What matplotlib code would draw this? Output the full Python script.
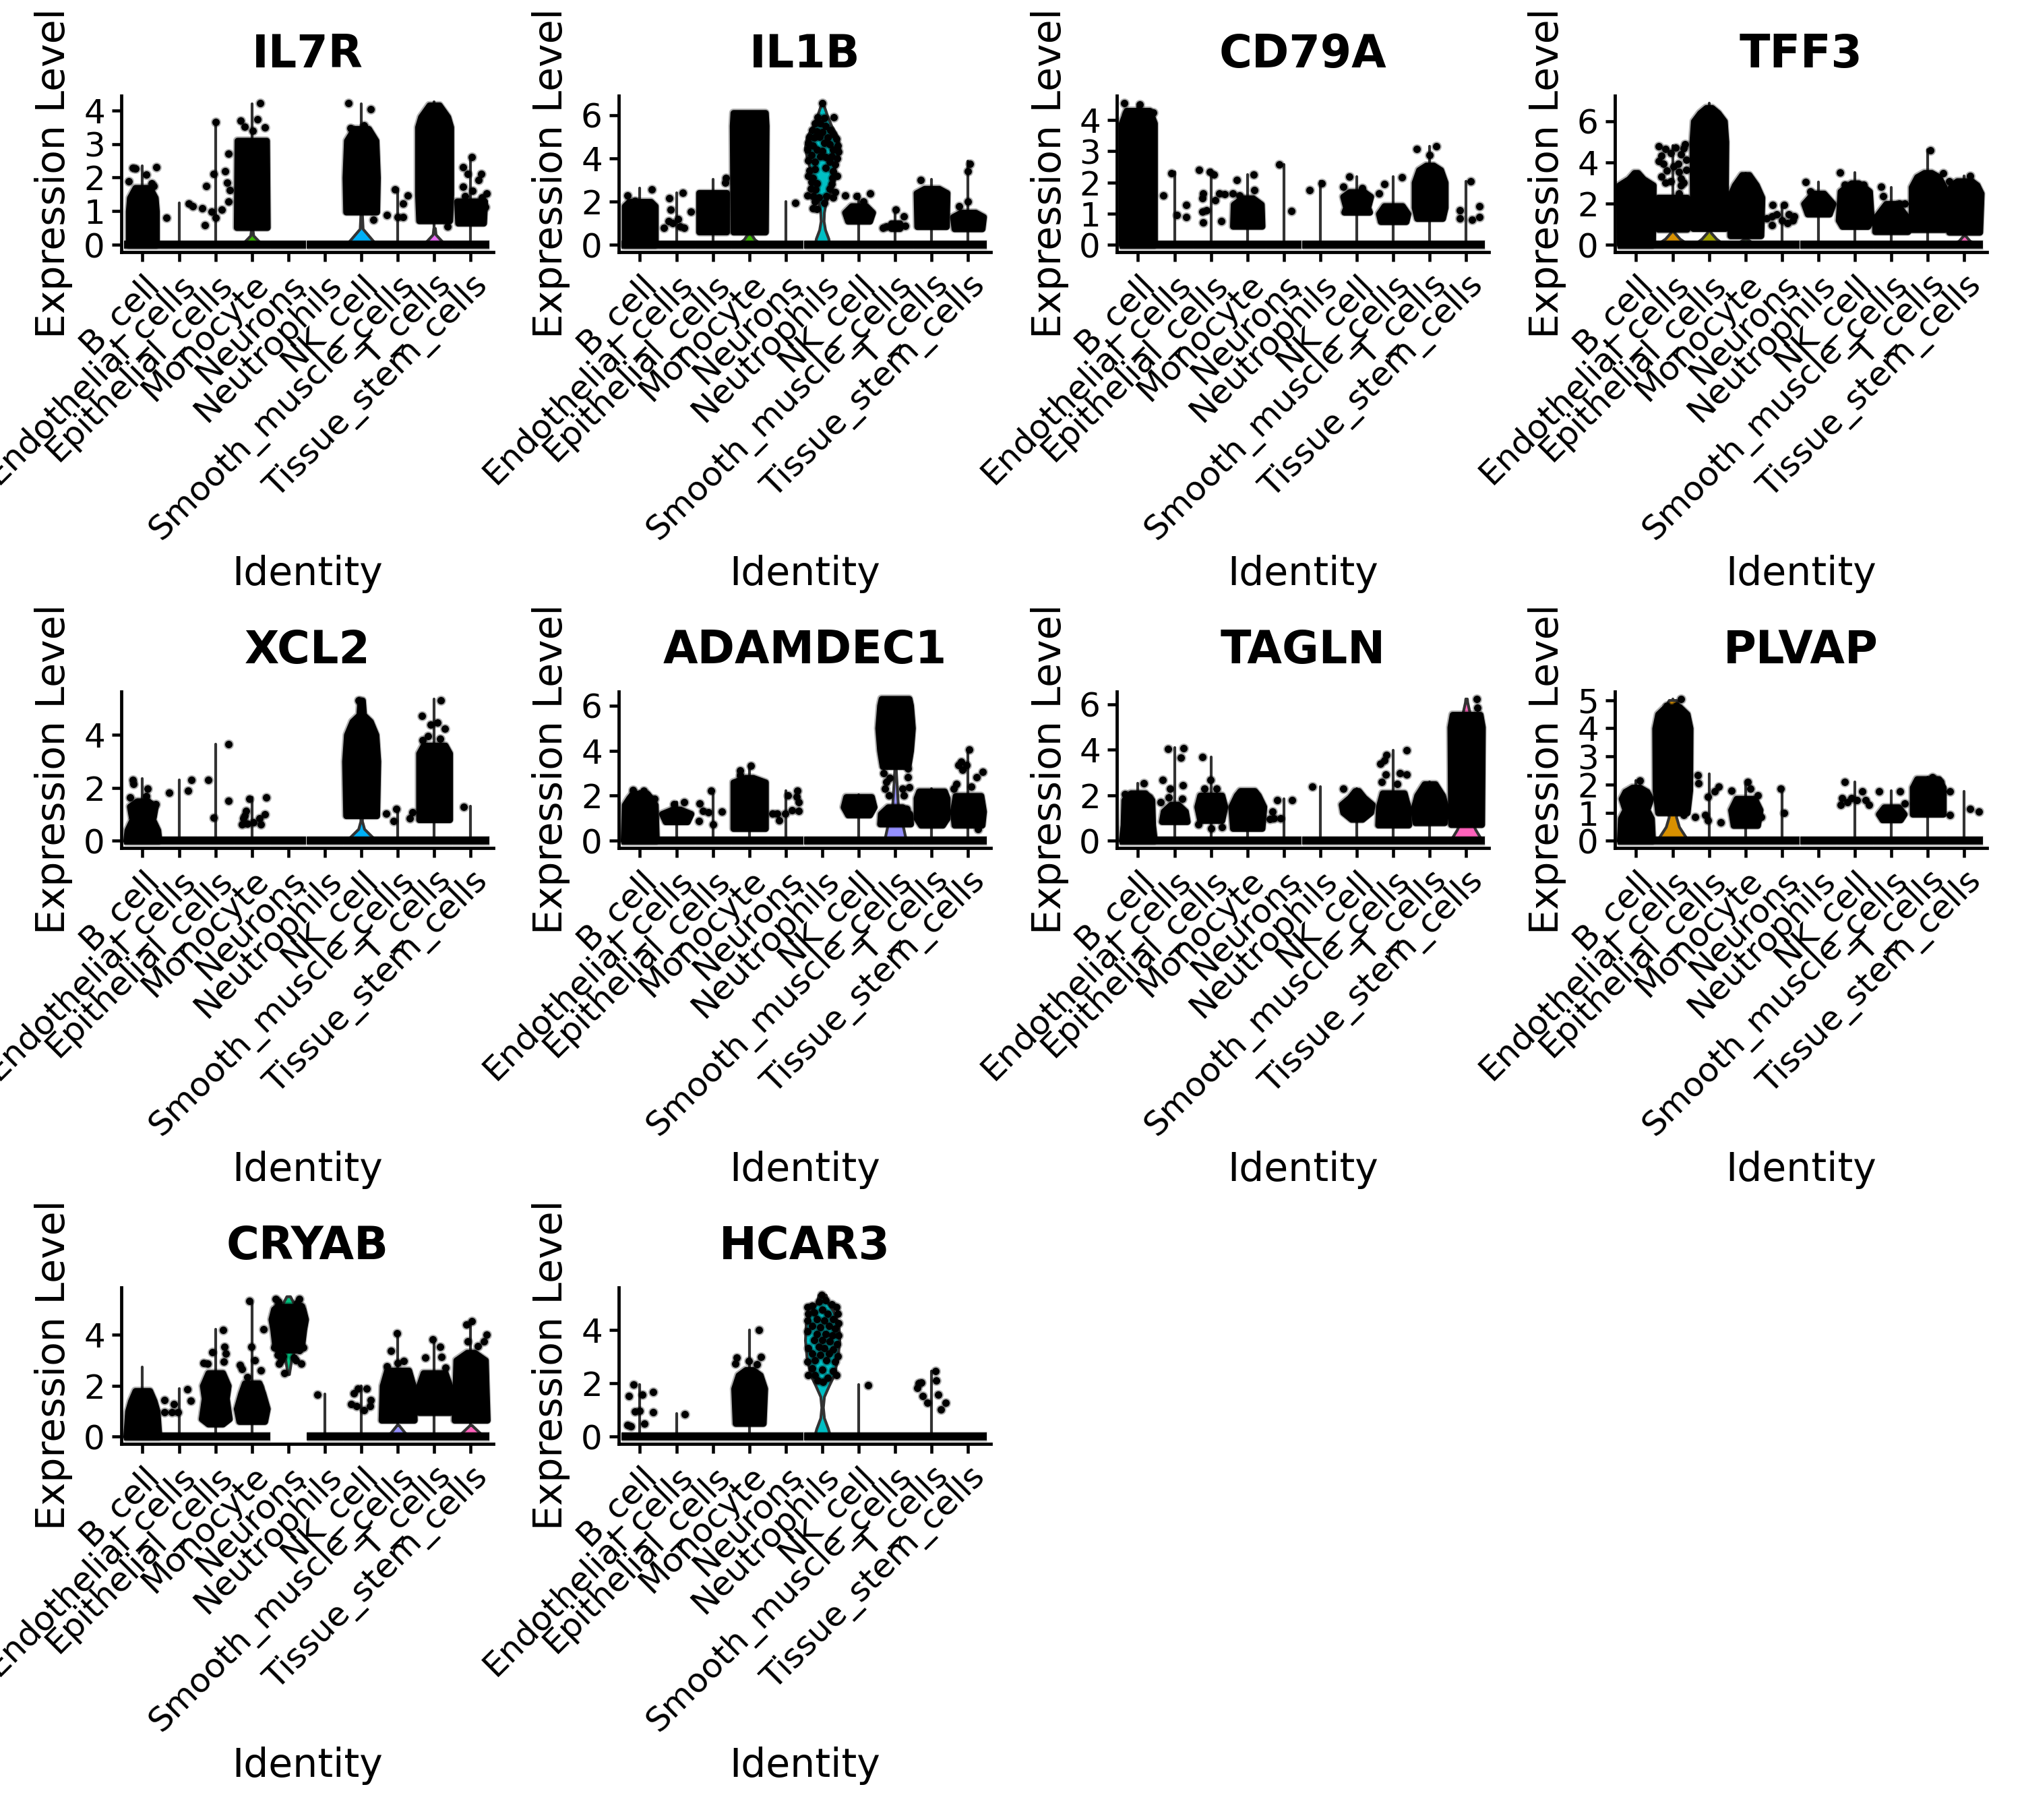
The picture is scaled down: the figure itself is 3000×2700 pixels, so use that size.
import matplotlib
matplotlib.use("Agg")
import matplotlib.pyplot as plt

clusters = ["B_cell", "Endothelial_cells", "Epithelial_cells", "Monocyte", "Neurons",
            "Neutrophils", "NK_cell", "Smooth_muscle_cells", "T_cells", "Tissue_stem_cells"]
hue = ["#F8766D", "#D89000", "#A3A500", "#39B600", "#00BF7D",
       "#00BFC4", "#00B0F6", "#9590FF", "#E76BF3", "#FF62BC"]
genes = ["IL7R", "IL1B", "CD79A", "TFF3", "XCL2", "ADAMDEC1", "TAGLN", "PLVAP", "CRYAB", "HCAR3"]
y_max = [4.22, 6.56, 4.55, 6.89, 5.36, 6.3, 6.25, 5.05, 5.57, 5.31]
y_ticks = [[0, 1, 2, 3, 4], [0, 2, 4, 6], [0, 1, 2, 3, 4], [0, 2, 4, 6], [0, 2, 4],
           [0, 2, 4, 6], [0, 2, 4, 6], [0, 1, 2, 3, 4, 5], [0, 2, 4], [0, 2, 4]]

# top of each cluster's violin line
violin_top = [
    [2.35, 1.25, 3.69, 4.2, 0, 0, 4.2, 1.67, 4.25, 2.62],
    [2.62, 2.41, 3.04, 6.1, 2.0, 6.56, 2.36, 1.68, 3.04, 3.87],
    [4.5, 2.33, 2.4, 2.26, 2.58, 2.04, 2.18, 2.18, 3.17, 2.04],
    [3.3, 4.83, 6.89, 3.47, 1.94, 3.05, 3.52, 2.79, 4.61, 3.36],
    [2.35, 2.29, 3.64, 1.63, 0, 0, 5.36, 1.25, 5.36, 1.3],
    [2.2, 1.71, 2.23, 3.36, 2.23, 0, 2.03, 3.4, 2.3, 4.06],
    [2.54, 4.09, 3.7, 2.2, 1.85, 2.39, 2.29, 3.99, 2.6, 6.25],
    [2.13, 5.04, 2.37, 2.1, 1.85, 0, 2.1, 1.79, 2.25, 1.75],
    [2.73, 1.89, 4.22, 5.32, 0, 1.67, 1.98, 4.04, 3.87, 4.53],
    [1.95, 0.86, 0, 4.0, 0, 5.31, 1.95, 0, 2.45, 0],
]

# clusters with no zero-expression cells
no_zero_band = [[], [], [], [], [], [], [], [], [4], []]

# filled violin bodies: (cluster, [(y, half width), ...])
violins = [
    [(3, [(0, .38), (.1, .2), (.28, .04), (.45, .02)]),
     (6, [(0, .42), (.15, .3), (.48, .04), (.9, .02)]),
     (8, [(0, .4), (.1, .22), (.31, .04), (.5, .02)])],
    [(3, [(0, .36), (.25, .15), (.55, .03)]),
     (5, [(0, .2), (.3, .17), (.7, .08), (1.1, .04), (1.5, .05), (2, .1), (2.5, .25), (3, .33),
          (3.5, .33), (4, .42), (4.5, .47), (5, .42), (5.5, .25), (6, .13), (6.3, .07), (6.56, .02)])],
    [],
    [(1, [(0, .45), (.3, .2), (.6, .05), (.8, .02)]),
     (2, [(0, .42), (.3, .2), (.6, .05), (.75, .02)]),
     (3, [(0, .4), (.1, .2), (.3, .03)]),
     (9, [(0, .37), (.2, .15), (.45, .03)])],
    [(6, [(0, .42), (.15, .3), (.45, .08), (.75, .02), (.95, .02)])],
    [(7, [(0, .3), (.6, .22), (1.5, .08), (3.4, .01)])],
    [(9, [(0, .44), (.5, .25), (.7, .2), (5.6, .1), (6.1, .03), (6.25, .02)])],
    [(1, [(0, .43), (.5, .18), (.85, .1), (1.1, .13), (1.6, .3), (3.4, .47), (4.5, .3), (5.0, .1)])],
    [(4, [(2.45, .02), (3, .08), (3.5, .2), (4.5, .47), (5.2, .16), (5.5, .05)]),
     (7, [(0, .37), (.15, .2), (.45, .03)]),
     (9, [(0, .4), (.15, .25), (.45, .03)])],
    [(5, [(0, .22), (.3, .16), (.7, .05), (1.1, .02), (1.5, .05), (1.9, .18), (2.3, .32),
          (3, .43), (3.6, .47), (4.2, .45), (4.7, .3), (5, .15), (5.3, .1)])],
]

# overplotted masses of jittered cells: (cluster, [(y, half width), ...])
dense_cells = [
    [(0, [(0, .38), (1.0, .38), (1.4, .35), (1.7, .2)]),
     (3, [(.52, .42), (3.1, .4)]),
     (6, [(.98, .42), (2.0, .44), (3.1, .4), (3.45, .2)]),
     (8, [(.72, .42), (1.5, .45), (3.5, .45), (3.8, .37), (4.15, .14)]),
     (9, [(.65, .35), (1.3, .38)])],
    [(0, [(0, .42), (1.8, .42), (2.0, .3)]),
     (2, [(.6, .38), (2.4, .38)]),
     (3, [(.6, .44), (5.5, .46), (6.1, .44)]),
     (6, [(1.1, .3), (1.5, .38), (1.8, .2)]),
     (7, [(.75, .12), (1.0, .12)]),
     (8, [(.85, .4), (2.4, .42), (2.6, .2)]),
     (9, [(.75, .38), (1.3, .42), (1.5, .2)])],
    [(0, [(0, .45), (3.9, .45), (4.3, .32)]),
     (3, [(.6, .4), (1.3, .38), (1.5, .15)]),
     (6, [(1.05, .35), (1.2, .3), (1.55, .38), (1.7, .2)]),
     (7, [(.75, .35), (1.0, .4), (1.25, .25)]),
     (8, [(.85, .35), (1.2, .42), (2.0, .42), (2.4, .3), (2.55, .1)])],
    [(0, [(0, .45), (2.9, .47), (3.2, .2), (3.5, .05)]),
     (1, [(.78, .4), (2.3, .4)]),
     (2, [(.8, .44), (5, .46), (6, .42), (6.4, .25), (6.65, .08)]),
     (3, [(.45, .42), (2.3, .45), (2.9, .3), (3.4, .1)]),
     (5, [(1.5, .3), (2.0, .4), (2.5, .15)]),
     (6, [(.9, .35), (1.2, .45), (2.6, .4), (3.0, .1)]),
     (7, [(.65, .45), (1.3, .45), (2.0, .15)]),
     (8, [(.75, .45), (2.8, .45), (3.3, .3), (3.5, .1)]),
     (9, [(.62, .42), (2.5, .46), (2.9, .35), (3.1, .2)])],
    [(0, [(0, .45), (.4, .42), (.75, .3)]),
     (0, [(.9, .3), (1.3, .35), (1.5, .15)]),
     (6, [(.95, .42), (3, .45), (4, .4), (4.5, .25), (4.75, .06), (5.3, .03)]),
     (8, [(.8, .42), (3.3, .42), (3.6, .3)])],
    [(0, [(0, .45), (1.6, .42), (1.9, .3), (2.1, .2)]),
     (1, [(.85, .3), (1.2, .4), (1.4, .1)]),
     (3, [(.55, .44), (2.6, .44), (2.8, .1)]),
     (6, [(1.15, .3), (1.5, .42), (1.95, .35)]),
     (7, [(3.3, .35), (4, .42), (5, .47), (6, .42), (6.3, .38)]),
     (7, [(.75, .42), (1.2, .4), (1.5, .2)]),
     (8, [(.7, .3), (1.0, .42), (1.9, .42), (2.2, .35)]),
     (9, [(.7, .38), (1.3, .42), (2.0, .35)])],
    [(0, [(0, .45), (.7, .4), (1.8, .38), (2.1, .2)]),
     (1, [(.85, .35), (1.3, .3), (1.6, .1)]),
     (2, [(.9, .3), (1.5, .38), (2.0, .3)]),
     (3, [(.55, .4), (1.5, .45), (2.0, .3), (2.2, .2)]),
     (6, [(.95, .15), (1.25, .38), (1.6, .42), (1.9, .2), (2.2, .05)]),
     (7, [(.7, .42), (1.5, .4), (2.1, .3)]),
     (8, [(.8, .4), (1.4, .45), (2.0, .35), (2.5, .15)]),
     (9, [(.72, .42), (5.0, .44), (5.55, .38)])],
    [(0, [(0, .45), (.8, .42), (1.1, .3), (1.5, .4), (1.75, .3), (1.9, .1)]),
     (1, [(1.0, .4), (1.8, .47), (4.0, .48), (4.5, .4), (4.75, .2)]),
     (3, [(.55, .33), (1.1, .4), (1.5, .25)]),
     (7, [(.75, .25), (.95, .35), (1.2, .2)]),
     (8, [(.95, .42), (1.9, .42), (2.2, .3)])],
    [(0, [(0, .45), (1.0, .4), (1.4, .32), (1.8, .2)]),
     (2, [(.5, .2), (.7, .38), (1.5, .3), (2.0, .35), (2.5, .2)]),
     (3, [(.6, .35), (1.1, .42), (1.7, .3), (2.1, .2)]),
     (4, [(3.4, .3), (3.6, .37), (4.2, .42), (4.6, .47), (5.0, .4), (5.1, .3)]),
     (7, [(.65, .45), (2, .42), (2.6, .3)]),
     (8, [(.95, .42), (2.0, .42), (2.5, .3)]),
     (9, [(.65, .45), (2, .42), (3.0, .4), (3.3, .1)])],
    [(3, [(.5, .38), (1.8, .42), (2.3, .3), (2.5, .1)])],
]

# individually visible cells: (x position, expression)
loose_cells = [
    [(-.37, 1.89), (-.19, 2.27), (-.26, 2.3), (.1, 2.09), (.38, 2.32), (.25, 1.82), (.3, 1.75), (.65, .8),
     (1.27, 1.22), (1.63, 1.08), (1.71, .58), (1.74, 1.75), (1.96, 2.12), (2.0, 3.66), (1.89, .98), (2.0, .8),
     (1.37, 1.15), (2.18, 1.05), (2.35, 1.28), (2.27, 2.2), (2.35, 2.72), (2.33, 1.85), (2.4, 1.62),
     (2.69, 3.69), (2.8, 3.52), (3.16, 3.73), (3.35, 3.49), (3.22, 4.21), (3.02, 3.39), (5.64, 4.21),
     (6.26, 4.03), (5.71, 3.47), (6.08, 3.56), (6.33, .75), (6.7, .88), (6.92, 1.65), (7.28, 1.46),
     (7.14, 1.22), (6.99, .82), (7.14, .82), (8.37, .55), (8.78, 2.32), (9.03, 2.62), (9.29, 2.12),
     (8.92, 2.12), (8.78, 1.72), (9.21, 1.92), (9.43, 1.52), (9.4, 1.12), (9.05, 1.6), (8.85, 1.45), (9.3, 1.4)],
    [(-.34, 2.3), (-.13, 2.05), (.32, 2.57), (.81, 2.15), (1.18, 2.41), (.85, 1.63), (1.39, 1.53), (.78, 1.11),
     (.65, .8), (1.22, .8), (.89, 1.0), (1.05, 1.2), (1.1, .85), (2.34, 2.88), (2.35, 3.09), (4.27, 1.94),
     (5.0, 6.55), (4.88, 5.9), (5.05, 5.85), (5.32, 5.9), (4.8, 5.6), (4.95, 5.6), (5.1, 5.5), (5.22, 5.3),
     (4.72, 5.3), (4.85, 5.25), (5.0, 5.2), (5.3, 5.1), (4.65, 5.0), (4.78, 4.95), (4.92, 5.0), (5.15, 4.95),
     (5.38, 4.9), (4.62, 4.7), (4.75, 4.6), (5.05, 4.7), (5.2, 4.65), (5.42, 4.6), (4.6, 4.4), (4.85, 4.4),
     (5.0, 4.35), (5.3, 4.4), (5.44, 4.3), (4.7, 4.15), (4.95, 4.1), (5.1, 4.05), (5.25, 4.1), (5.4, 4.0),
     (4.62, 3.9), (4.8, 3.85), (5.2, 3.85), (5.35, 3.7), (4.65, 3.45), (4.8, 3.5), (5.1, 3.55), (5.3, 3.4),
     (4.62, 3.2), (4.75, 3.1), (5.28, 3.1), (5.4, 3.2), (4.7, 2.9), (4.85, 2.85), (5.25, 2.8), (4.68, 2.6),
     (4.82, 2.55), (5.2, 2.6), (5.35, 2.45), (4.6, 2.3), (4.75, 2.25), (4.9, 2.2), (5.12, 2.25), (5.3, 2.2),
     (4.8, 2.0), (5.05, 1.95), (4.75, 1.7), (4.85, 1.65), (5.62, 2.3), (5.95, 2.25), (6.32, 2.38), (6.12, 2.0),
     (6.66, .8), (7.02, 1.63), (7.23, 1.32), (7.27, .9), (6.75, .85), (7.69, 3.0), (8.76, 1.8), (9.0, 2.0),
     (9.04, 3.76), (9.0, 3.4)],
    [(-.38, 4.54), (.04, 4.49), (-.32, 4.2), (.41, 4.24), (.7, 1.59), (.92, 2.29), (1.06, .96), (1.32, 1.28),
     (1.32, .89), (1.68, 2.4), (1.97, 2.33), (2.08, 2.26), (1.79, 1.64), (1.76, 1.5), (1.76, 1.07), (1.87, 1.1),
     (1.78, .72), (2.28, .76), (2.12, 1.43), (2.23, 1.64), (2.38, 1.63), (2.59, 1.64), (2.78, 1.59), (2.7, 2.09),
     (3.18, 2.26), (3.19, 1.75), (3.87, 2.58), (4.2, 1.08), (4.71, 1.75), (5.04, 1.97), (5.79, 2.18), (5.62, 1.86),
     (6.15, 1.82), (6.6, 1.64), (6.75, 1.95), (7.24, 2.17), (7.64, 3.08), (8.18, 3.16), (7.99, 2.87), (8.83, 1.1),
     (8.83, .86), (9.12, 2.04), (9.36, 1.25), (9.36, .89), (9.15, .81)],
    [(.62, 4.78), (.8, 4.67), (1.09, 4.72), (1.35, 4.89), (.69, 4.34), (.95, 4.45), (1.24, 4.4), (1.38, 4.12),
     (.62, 4.05), (.75, 3.95), (1.15, 3.95), (1.38, 3.65), (.69, 3.3), (.8, 3.03), (1.17, 3.55), (1.24, 3.2),
     (1.31, 3.03), (1.17, 2.49), (1.31, 2.16), (1.24, 2.9), (.85, 3.6), (1.02, 3.8), (1.3, 4.7), (.95, 3.1),
     (3.75, 1.94), (4.05, 1.94), (3.57, 1.29), (3.72, .96), (3.86, 1.5), (4.01, 1.18), (4.19, 1.5), (4.34, 1.4),
     (4.15, 1.07), (4.3, 1.18), (3.72, 1.4), (4.65, 3.05), (4.77, 2.6), (5.6, 3.52), (6.23, 2.92), (5.72, 2.92),
     (6.71, 2.81), (6.78, 2.38), (7.21, 2.0), (7.36, 2.0), (8.07, 4.58), (8.42, 3.47), (9.15, 3.34), (8.58, 3.09)],
    [(-.26, 2.3), (-.25, 2.14), (.14, 1.97), (-.34, 1.63), (.36, 1.38), (.1, 1.7), (.74, 1.82), (1.25, 1.88),
     (1.34, 2.29), (1.81, 2.29), (2.36, 3.64), (2.36, 1.5), (1.96, .88), (2.94, 1.58), (3.4, 1.63), (2.84, 1.12),
     (2.76, .86), (2.73, .61), (2.87, .65), (3.05, .7), (3.24, .61), (3.2, .86), (3.35, .99), (2.8, .95),
     (5.93, 5.31), (6.68, 1.02), (6.95, 1.2), (6.88, .74), (7.32, .86), (7.41, 1.08), (7.67, 4.72), (8.18, 5.31),
     (8.09, 4.47), (8.29, 4.23), (7.9, 4.38), (7.68, 3.79), (7.83, 3.96), (8.16, 3.85), (8.8, 1.29)],
    [(-.2, 2.26), (.11, 2.21), (.4, 1.86), (1.22, 1.71), (.93, 1.62), (1.64, 1.67), (1.73, 1.32), (1.87, 1.27),
     (1.62, .87), (2, .72), (2.24, 1.3), (1.96, 2.21), (2.75, 3.11), (2.75, 2.9), (3.04, 3.33), (3.77, 1.22),
     (3.63, 1.2), (3.81, .92), (3.99, 1.22), (4.17, 1.37), (4.35, 1.34), (4.06, 2.01), (4.32, 2.21), (4.35, 1.71),
     (4.3, 1.95), (6.76, 2.61), (6.72, 2.31), (6.83, 2.01), (7.2, 2.31), (7.35, 2.81), (7.24, 2.01), (7.38, 2.36),
     (6.69, 3.0), (7.35, 3.2), (6.85, 2.8), (7.31, 1.42), (7.38, 1.02), (8.73, 3.36), (8.95, 3.36), (8.85, 3.15),
     (9.02, 4.06), (9.39, 3.06), (9.24, 2.81), (8.67, 2.51), (8.6, 2.31), (9.09, 2.41), (9.27, .52), (8.8, 3.5)],
    [(.15, 2.54), (-.36, 2.05), (.3, 1.9), (.83, 4.05), (1.25, 4.07), (1.18, 3.66), (.68, 2.69), (1.23, 2.44),
     (.88, 2.29), (.85, 1.9), (1.21, 1.85), (.63, 1.7), (1.76, 3.68), (1.98, 2.69), (1.83, 2.29), (2.16, 2.29),
     (1.65, .71), (2.3, .61), (2, .56), (3.82, 1.8), (4.23, 1.8), (3.69, 1.3), (3.62, .96), (3.91, 1.0), (3.72, .98),
     (4.78, 2.39), (5.62, 2.29), (7.37, 3.99), (6.75, 3.53), (6.64, 3.38), (6.82, 3.77), (7.37, 2.93), (7.19, 2.98),
     (6.79, 2.93), (6.68, 2.59), (7.1, 2.5), (9.29, 6.25), (9.3, 5.85)],
    [(.11, 2.15), (1.24, 5.04), (1.1, 4.8), (.85, 4.8), (1.31, .93), (1.62, .85), (1.9, .93), (1.97, .73), (2.32, .65),
     (1.69, 2.34), (1.71, 2.05), (1.97, 1.57), (2.26, 1.93), (2.15, 1.77), (2.62, 1.79), (3.06, 2.09), (3.13, 1.85),
     (3.34, 1.61), (3.43, .85), (3.97, 1.85), (4.05, .99), (5.72, 2.09), (5.65, 1.53), (5.61, 1.29), (5.79, 1.37),
     (6.2, 1.77), (6.3, 1.45), (6.38, 1.29), (6.05, 1.45), (5.9, 1.53), (6.67, 1.77), (7.24, 1.77), (7.36, 1.33),
     (8.12, 2.25), (8.61, 1.75), (8.61, .93), (8.34, 2.09), (7.7, 2.05), (9.15, 1.13), (9.39, 1.05)],
    [(.61, 1.45), (.87, 1.27), (.61, .97), (.98, .97), (.8, .95), (1.23, 1.85), (1.33, 1.41), (2.21, 4.19), (2.25, 3.52),
     (1.92, 3.3), (2.29, 3.25), (2.22, 2.95), (1.67, 2.9), (1.78, 2.86), (2.94, 5.32), (3.31, 4.22), (2.99, 3.52),
     (2.68, 2.81), (3.08, 2.99), (3.24, 2.59), (2.87, 2.33), (2.72, 2.65), (3.2, 1.93), (3.89, 2.5), (4.36, 2.86), (3.74, 2.86),
     (3.65, 5.4), (4.3, 5.4), (3.72, 5.3), (4.25, 5.25), (3.7, 5.1), (4.35, 5.1), (3.62, 3.5), (3.7, 3.2), (4.3, 3.4), (4.4, 3.5),
     (3.8, 3.0), (3.85, 3.15), (4.15, 3.1), (4.2, 3.0), (4.8, 1.64), (5.79, 1.71), (5.72, 1.27), (5.9, 1.9), (6.15, 1.89),
     (6.26, 1.45), (6.08, 1.05), (5.86, 1.19), (6.23, 1.19), (6.97, 4.04), (6.82, 3.37), (7.17, 2.96), (7.0, 2.9), (6.7, 2.75),
     (7.96, 3.82), (7.76, 3.1), (8.16, 3.52), (8.2, 3.12), (8.3, 2.7), (8.88, 4.4), (9.03, 4.53), (8.92, 3.74), (9.44, 4.0),
     (9.36, 3.74), (9.2, 3.55)],
    [(-.17, 1.95), (-.31, 1.53), (.07, 1.57), (.36, 1.67), (-.13, .94), (-.01, .98), (.36, .91), (-.34, .44), (-.25, .39),
     (.13, .48), (1.24, .84), (3.26, 4.0), (3.32, 2.98), (2.66, 2.95), (2.62, 2.73), (2.99, 2.83), (3.2, 2.7),
     (4.98, 5.3), (4.72, 4.9), (4.6, 4.85), (5.38, 4.85), (5.1, 5.1), (4.9, 5.05), (5.25, 4.95), (4.62, 4.6), (4.78, 4.65),
     (5.0, 4.75), (5.15, 4.6), (5.42, 4.6), (4.6, 4.35), (4.85, 4.4), (5.05, 4.35), (5.3, 4.4), (5.44, 4.25), (4.72, 4.15),
     (4.95, 4.1), (5.18, 4.15), (5.35, 4.05), (4.6, 3.95), (4.85, 3.85), (5.1, 3.85), (5.28, 3.8), (5.45, 3.8), (4.78, 3.6),
     (5.0, 3.6), (5.2, 3.55), (5.4, 3.45), (4.62, 3.3), (4.9, 3.35), (5.05, 3.3), (5.3, 3.25), (4.72, 3.1), (4.95, 3.05),
     (5.18, 3.1), (5.42, 3.0), (4.6, 2.8), (4.8, 2.85), (5.12, 2.85), (5.35, 2.8), (4.72, 2.55), (5.0, 2.5), (5.3, 2.45),
     (4.62, 2.3), (4.8, 2.3), (5.15, 2.2), (5.38, 2.3), (4.88, 2.1), (5.02, 2.05), (6.26, 1.92), (8.11, 2.45), (8.13, 2.1),
     (7.72, 2.03), (7.61, 1.82), (7.76, 1.53), (7.89, 1.27), (8.17, 1.57), (8.38, 1.27), (8.26, 1.02), (7.65, 2.0)],
]

LINE = "#333333"
FIG_W, FIG_H = 3000, 2700
AX_W, AX_H = 552, 232
AX_LEFT = [180, 918, 1657, 2396]
AX_BOTTOM = [374, 1258, 2142]

plt.rcParams["font.family"] = "DejaVu Sans"
fig = plt.figure(figsize=(FIG_W / 300, FIG_H / 300), dpi=300, facecolor="white")


def draw_panel(ax, k):
    top = y_max[k]
    ax.set_xlim(-0.58, 9.62)
    ax.set_ylim(-0.05 * top, 1.05 * top)
    for c, v in enumerate(violin_top[k]):
        if v > 0:
            ax.plot([c, c], [0, v], color=LINE, lw=1.0, solid_capstyle="round", zorder=2)
    for c, prof in violins[k]:
        ys = [p[0] for p in prof]
        hw = [p[1] for p in prof]
        ax.fill_betweenx(ys, [c - h for h in hw], [c + h for h in hw], facecolor=hue[c],
                         edgecolor=LINE, lw=1.0, zorder=2)
    for c in range(10):
        if c not in no_zero_band[k]:
            right = 0.49 if c == 4 else 0.5
            left = 0.49 if c == 5 else 0.5
            ax.plot([c - left, c + right], [0, 0], color="black", lw=3.6, alpha=0.25,
                    solid_capstyle="butt", zorder=3)
            ax.plot([c - left, c + right], [0, 0], color="black", lw=2.8,
                    solid_capstyle="butt", zorder=3)
    for c, prof in dense_cells[k]:
        ys = [p[0] for p in prof]
        hw = [p[1] for p in prof]
        halo = ax.fill_betweenx(ys, [c - h for h in hw], [c + h for h in hw], facecolor="none",
                                edgecolor="black", lw=3.0, alpha=0.3, zorder=3)
        halo.set_joinstyle("round")
        poly = ax.fill_betweenx(ys, [c - h for h in hw], [c + h for h in hw], facecolor="black",
                                edgecolor="black", lw=2.2, zorder=3)
        poly.set_joinstyle("round")
    xs = [p[0] for p in loose_cells[k]]
    ys = [p[1] for p in loose_cells[k]]
    ax.scatter(xs, ys, s=13, c="black", linewidths=0, alpha=0.3, zorder=3)
    ax.scatter(xs, ys, s=7, c="black", linewidths=0, zorder=3)

    for s in ("top", "right"):
        ax.spines[s].set_visible(False)
    for s in ("left", "bottom"):
        ax.spines[s].set_linewidth(1.15)
    ax.set_xticks(range(10))
    ax.set_xticklabels(clusters, rotation=45, ha="right", rotation_mode="anchor", fontsize=12)
    ax.set_yticks(y_ticks[k])
    ax.tick_params(axis="both", length=3.3, width=1.1, labelsize=12, pad=2.5)
    ax.set_xlabel("Identity", fontsize=14, va="center")
    ax.xaxis.set_label_coords(0.5, -(852 - 374) / AX_H)
    ax.set_ylabel("Expression Level", fontsize=14, va="center")
    ax.yaxis.set_label_coords(-100 / AX_W, 0.505)
    ax.set_title(genes[k], fontsize=16, fontweight="bold", va="center", pad=0, y=(374 - 81) / AX_H)


for k in range(len(genes)):
    row, col = divmod(k, 4)
    rect = [AX_LEFT[col] / FIG_W, 1 - AX_BOTTOM[row] / FIG_H, AX_W / FIG_W, AX_H / FIG_H]
    draw_panel(fig.add_axes(rect), k)

fig.savefig("out.png", dpi=300, facecolor="white")
